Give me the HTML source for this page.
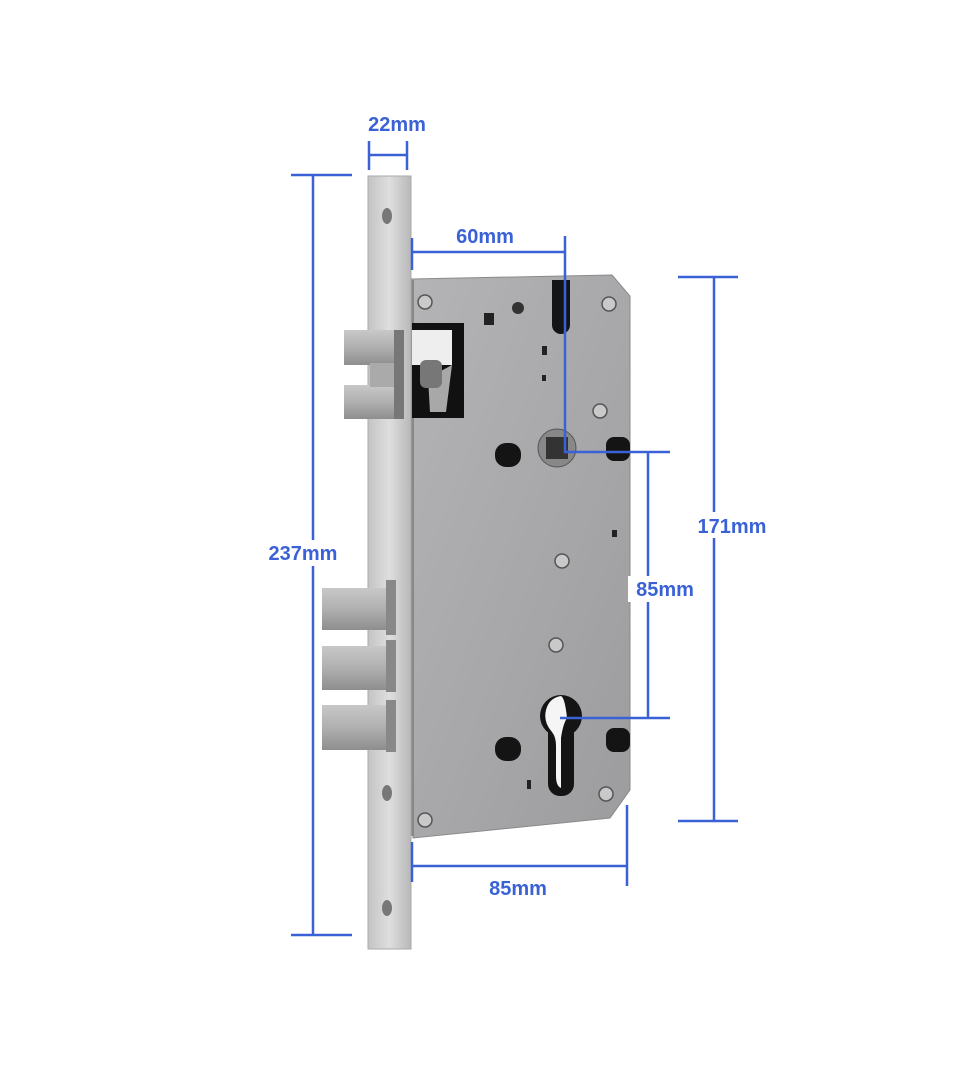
<!DOCTYPE html>
<html><head><meta charset="utf-8"><style>
html,body{margin:0;padding:0;background:#fff;width:969px;height:1080px;overflow:hidden}
svg{display:block}
text{font-family:"Liberation Sans",sans-serif;font-weight:bold;font-size:20px;fill:#3a62d6}
</style></head><body>
<svg width="969" height="1080" viewBox="0 0 969 1080">
<defs>
<linearGradient id="fp" x1="0" x2="1"><stop offset="0" stop-color="#c4c4c4"/><stop offset="0.5" stop-color="#dedede"/><stop offset="1" stop-color="#b8b8b8"/></linearGradient>
<linearGradient id="bd" x1="0" y1="0" x2="1" y2="1"><stop offset="0" stop-color="#b4b4b6"/><stop offset="0.6" stop-color="#a6a6a8"/><stop offset="1" stop-color="#9c9c9e"/></linearGradient>
<linearGradient id="bolt" x1="0" y1="0" x2="0" y2="1"><stop offset="0" stop-color="#c8c8c8"/><stop offset="0.5" stop-color="#b0b0b0"/><stop offset="1" stop-color="#8e8e8e"/></linearGradient>
</defs>
<path d="M412 279 L612 275 L630 296 L630 790 L610 818 L413 838 Z" fill="url(#bd)" stroke="#8a8a8a"/>
<rect x="410" y="280" width="4" height="556" fill="#888"/>
<rect x="412" y="323" width="52" height="95" fill="#111"/>
<rect x="412" y="330" width="40" height="35" fill="#eee"/>
<polygon points="428,378 452,365 446,412 430,412" fill="#a8a8a8"/>
<rect x="420" y="360" width="22" height="28" rx="6" fill="#777"/>
<path d="M552 280 h18 v45 a9 9 0 0 1 -18 0 Z" fill="#141414"/>
<rect x="495" y="443" width="26" height="24" rx="11" fill="#141414"/>
<circle cx="557" cy="448" r="19" fill="#888" stroke="#555"/>
<rect x="546" y="437" width="22" height="22" fill="#333"/>
<rect x="606" y="437" width="24" height="24" rx="8" fill="#141414"/>
<rect x="606" y="728" width="24" height="24" rx="8" fill="#141414"/>
<rect x="495" y="737" width="26" height="24" rx="11" fill="#141414"/>
<circle cx="561" cy="716" r="21" fill="#141414"/>
<rect x="548" y="716" width="26" height="80" rx="12" fill="#141414"/>
<path d="M561 696 q-12 2 -15 14 q-3 12 6 22 q4 5 4 14 v30 q0 10 5 12 v-50 q2 -14 6 -20 q-2 -20 -6 -22Z" fill="#f5f5f5"/>
<rect x="484" y="313" width="10" height="12" fill="#222"/>
<circle cx="518" cy="308" r="6" fill="#333"/>
<rect x="542" y="346" width="5" height="9" fill="#222"/>
<rect x="542" y="375" width="4" height="6" fill="#222"/>
<rect x="612" y="530" width="5" height="7" fill="#222"/>
<rect x="527" y="780" width="4" height="9" fill="#222"/>
<g fill="#c9c9c9" stroke="#555" stroke-width="1.5">
<circle cx="425" cy="302" r="7"/><circle cx="609" cy="304" r="7"/><circle cx="600" cy="411" r="7"/>
<circle cx="562" cy="561" r="7"/><circle cx="556" cy="645" r="7"/><circle cx="606" cy="794" r="7"/><circle cx="425" cy="820" r="7"/>
</g>
<rect x="368" y="176" width="43" height="773" fill="url(#fp)" stroke="#aaa"/>
<ellipse cx="387" cy="216" rx="5" ry="8" fill="#777"/>
<ellipse cx="387" cy="793" rx="5" ry="8" fill="#777"/>
<ellipse cx="387" cy="908" rx="5" ry="8" fill="#777"/>
<rect x="344" y="330" width="54" height="35" fill="url(#bolt)"/>
<rect x="344" y="385" width="54" height="34" fill="url(#bolt)"/>
<rect x="370" y="363" width="28" height="24" fill="#aaa"/>
<rect x="394" y="330" width="10" height="89" fill="#777"/>
<rect x="322" y="588" width="72" height="42" fill="url(#bolt)"/>
<rect x="322" y="646" width="72" height="44" fill="url(#bolt)"/>
<rect x="322" y="705" width="72" height="45" fill="url(#bolt)"/>
<rect x="386" y="580" width="10" height="55" fill="#888"/>
<rect x="386" y="640" width="10" height="52" fill="#888"/>
<rect x="386" y="700" width="10" height="52" fill="#888"/>
<g stroke="#3a62d6" stroke-width="2.5" fill="none">
<path d="M369 141 V170 M407 141 V170 M369 155 H407"/>
<path d="M291 175 H352 M291 935 H352 M313 175 V935"/>
<path d="M412 238 V270 M412 252 H565 M565 236 V452 H670"/>
<path d="M678 277 H738 M678 821 H738 M714 277 V821"/>
<path d="M648 452 V718 M560 718 H670"/>
<path d="M412 842 V882 M627 805 V886 M412 866 H627"/>
</g>
<rect x="258" y="540" width="88" height="26" fill="#fff"/>
<rect x="628" y="576" width="76" height="26" fill="#fff"/>
<rect x="688" y="512" width="90" height="26" fill="#fff"/>
<text x="397" y="131" text-anchor="middle">22mm</text>
<text x="485" y="243" text-anchor="middle">60mm</text>
<text x="303" y="560" text-anchor="middle">237mm</text>
<text x="732" y="533" text-anchor="middle">171mm</text>
<text x="665" y="596" text-anchor="middle">85mm</text>
<text x="518" y="895" text-anchor="middle">85mm</text>
</svg>
</body></html>
